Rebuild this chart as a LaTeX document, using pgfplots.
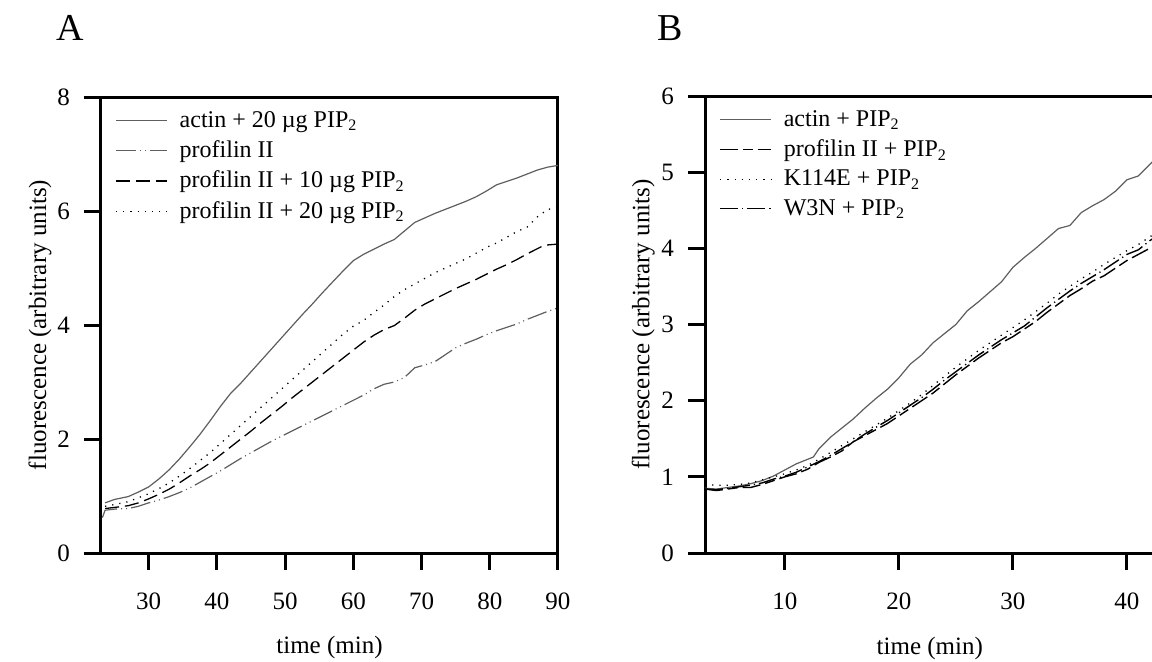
\documentclass[border=0pt]{standalone}
\usepackage{fontspec}
\setmainfont{Liberation Serif}
\usepackage{pgfplots}
\pgfplotsset{compat=1.18}

\definecolor{curvegray}{HTML}{5E5E5E}

\pgfplotsset{
  panel/.style={
    scale only axis,
    axis line style={line width=1.5pt, -},
    tick style={line width=1.5pt, black},
    major tick length=8.5pt,
    tick align=outside,
    tick pos=left,
    /pgf/number format/assume math mode=true,
    ticklabel style={font=\fontsize{12.5}{14}\selectfont},
    xticklabel style={yshift=-8pt},
    yticklabel style={xshift=-3.5pt},
    label style={font=\fontsize{12.5}{14}\selectfont},
    legend style={draw=none, fill=none, at={(0,1)}, anchor=north west,
      xshift=4pt, yshift=-3pt, row sep=1.2pt,
      font=\fontsize{12}{14}\selectfont},
    legend cell align=left,
    legend image code/.code={\draw[##1] (0pt,0pt) -- (25.5pt,0pt); \path (29.5pt,0pt);},
  },
  sold/.style={curvegray, line width=0.6pt},
  dashdotdot/.style={curvegray, line width=0.6pt,
    dash pattern=on 10pt off 2pt on 0.5pt off 2pt on 0.5pt off 2pt},
  dsh/.style={black, line width=0.65pt, dash pattern=on 7pt off 3pt},
  dots/.style={black, line width=0.65pt, dash pattern=on 0.6pt off 3pt},
  longshort/.style={black, line width=0.7pt, dash pattern=on 9pt off 2.5pt on 5pt off 2.5pt},
  dshdot/.style={black, line width=0.7pt, dash pattern=on 9pt off 2pt on 0.6pt off 2pt},
}

\begin{document}
\begin{tikzpicture}
\useasboundingbox (0pt,0pt) rectangle (576pt,-331pt);

\node[font=\fontsize{19}{20}\selectfont] at (35pt,-14pt) {A};
\node[font=\fontsize{19}{20}\selectfont] at (335pt,-14pt) {B};

% panel A
\begin{axis}[panel,
  at={(50.5pt,-276.5pt)}, anchor=south west,
  width=228.5pt, height=228pt,
  xmin=23, xmax=90, ymin=0, ymax=8,
  xtick={30,40,...,90}, ytick={0,2,4,6,8},
  xlabel={time (min)}, ylabel={fluorescence (arbitrary units)},
  xlabel style={at={(axis description cs:0.5,-0.208)}, anchor=center},
  ylabel style={at={(axis description cs:-0.1335,0.5)}, anchor=center},
]
\addplot[sold] coordinates {
 (23.6,0.88) (25,0.94) (27,0.99) (28.5,1.07) (30,1.16) (31.5,1.3) (33,1.46)
 (34.5,1.65) (36,1.86) (37.5,2.08) (39,2.32) (40.5,2.57) (42,2.8) (43.5,2.98)
 (45,3.18) (46.5,3.38) (48,3.58) (49.5,3.78) (51,3.98) (52.5,4.18) (54,4.37)
 (55.5,4.57) (57,4.76) (58.5,4.95) (60,5.13) (61.5,5.24) (63,5.33) (64.5,5.42)
 (66,5.5) (67.5,5.65) (69,5.8) (70.5,5.88) (72,5.96) (73.5,6.03) (75,6.1)
 (76.5,6.17) (78,6.25) (79.5,6.35) (81,6.46) (82.5,6.52) (84,6.58) (85.5,6.65)
 (87,6.72) (88.5,6.77) (90,6.8)};
\addlegendentry{actin + 20 µg PIP\textsubscript{2}}
\addplot[dashdotdot] coordinates {
 (23.2,0.62) (23.6,0.75) (25,0.77) (27,0.78) (28.5,0.82) (30,0.88) (31.5,0.93)
 (33,0.99) (34.5,1.06) (36,1.14) (37.5,1.24) (39,1.34) (40.5,1.44) (42,1.55)
 (43.5,1.66) (45,1.76) (46.5,1.86) (48,1.96) (49.5,2.05) (51,2.14) (52.5,2.23)
 (54,2.32) (55.5,2.41) (57,2.5) (58.5,2.59) (60,2.68) (61.5,2.77) (63,2.88)
 (64.5,2.96) (66,3.0) (67.5,3.08) (69,3.25) (70.5,3.3) (72,3.36) (73.5,3.48)
 (75,3.6) (76.5,3.68) (78,3.75) (79.5,3.83) (81,3.9) (82.5,3.96) (84,4.02)
 (85.5,4.1) (87,4.17) (88.5,4.24) (90,4.3)};
\addlegendentry{profilin II}
\addplot[dsh] coordinates {
 (23.6,0.78) (25,0.8) (27,0.83) (28.5,0.88) (30,0.95) (31.5,1.03) (33,1.12)
 (34.5,1.23) (36,1.35) (37.5,1.46) (39,1.58) (40.5,1.72) (42,1.86) (43.5,2.0)
 (45,2.14) (46.5,2.29) (48,2.43) (49.5,2.57) (51,2.72) (52.5,2.86) (54,3.0)
 (55.5,3.14) (57,3.28) (58.5,3.42) (60,3.56) (61.5,3.7) (63,3.82) (64.5,3.92)
 (66,3.99) (67.5,4.12) (69,4.26) (70.5,4.37) (72,4.46) (73.5,4.55) (75,4.64)
 (76.5,4.72) (78,4.8) (79.5,4.89) (81,4.98) (82.5,5.06) (84,5.15) (85.5,5.25)
 (87,5.34) (88,5.4) (90,5.42)};
\addlegendentry{profilin II + 10 µg PIP\textsubscript{2}}
\addplot[dots] coordinates {
 (23.6,0.82) (25,0.85) (27,0.9) (28.5,0.97) (30,1.04) (31.5,1.13) (33,1.23)
 (34.5,1.35) (36,1.48) (37.5,1.62) (39,1.76) (40.5,1.92) (42,2.08) (43.5,2.24)
 (45,2.4) (46.5,2.56) (48,2.72) (49.5,2.88) (51,3.04) (52.5,3.2) (54,3.36)
 (55.5,3.52) (57,3.68) (58.5,3.84) (60,3.98) (61.5,4.08) (63,4.22) (64.5,4.35)
 (66,4.5) (67.5,4.62) (69,4.72) (70.5,4.82) (72,4.92) (73.5,5.0) (75,5.08)
 (76.5,5.16) (78,5.26) (79.5,5.36) (81,5.44) (82.5,5.54) (84,5.64) (85.5,5.72)
 (87,5.9) (88.5,6.03) (90,6.05)};
\addlegendentry{profilin II + 20 µg PIP\textsubscript{2}}
\end{axis}

% panel B (cut at the right edge)
\begin{axis}[panel,
  at={(352.5pt,-276.5pt)}, anchor=south west,
  width=223.5pt, height=228.5pt,
  axis x line*=box, axis y line*=left,
  xmin=3, xmax=42.2, ymin=0, ymax=6,
  xtick={10,20,30,40}, ytick={0,1,...,6},
  xlabel={time (min)}, ylabel={fluorescence (arbitrary units)},
  xlabel style={at={(axis description cs:0.503,-0.208)}, anchor=center,
    font=\fontsize{12.5}{14}\selectfont},
  ylabel style={at={(axis description cs:-0.138,0.5)}, anchor=center},
]
\addplot[sold] coordinates {
 (3,0.85) (4,0.84) (5,0.86) (6,0.88) (7,0.91) (8,0.95) (9,1.01) (10,1.09)
 (11,1.17) (12,1.23) (12.5,1.26) (13,1.37) (14,1.52) (15,1.64) (16,1.76)
 (17,1.9) (18,2.03) (19,2.15) (20,2.3) (21,2.48) (22,2.6) (23,2.76) (24,2.88)
 (25,3.0) (26,3.18) (27,3.3) (28,3.43) (29,3.56) (30,3.75) (31,3.88) (32,4.0)
 (33,4.13) (34,4.26) (35,4.3) (36,4.47) (37,4.56) (38,4.64) (39,4.75) (40,4.9)
 (41,4.95) (42,5.1) (43,5.25)};
\addlegendentry{actin + PIP\textsubscript{2}}
\addplot[longshort] coordinates {
 (3,0.84) (4,0.82) (5,0.84) (6,0.86) (7,0.86) (8,0.9) (9,0.95) (10,1.0)
 (11,1.04) (12,1.1) (13,1.19) (14,1.26) (15,1.34) (16,1.46) (17,1.54) (18,1.62)
 (19,1.7) (20,1.8) (21,1.9) (22,2.0) (23,2.1) (24,2.22) (25,2.34) (26,2.45)
 (27,2.56) (28,2.66) (29,2.76) (30,2.84) (31,2.94) (32,3.04) (33,3.16) (34,3.27)
 (35,3.38) (36,3.47) (37,3.57) (38,3.64) (39,3.74) (40,3.84) (41,3.92) (42,4.0)
 (43,4.1)};
\addlegendentry{profilin II + PIP\textsubscript{2}}
\addplot[dots] coordinates {
 (3,0.9) (4,0.89) (5,0.89) (6,0.9) (7,0.92) (8,0.96) (9,1.0) (10,1.04)
 (11,1.09) (12,1.15) (13,1.23) (14,1.32) (15,1.41) (16,1.5) (17,1.59) (18,1.68)
 (19,1.77) (20,1.87) (21,1.97) (22,2.08) (23,2.2) (24,2.32) (25,2.44) (26,2.55)
 (27,2.66) (28,2.76) (29,2.86) (30,2.96) (31,3.06) (32,3.17) (33,3.28) (34,3.4)
 (35,3.5) (36,3.6) (37,3.69) (38,3.79) (39,3.88) (40,3.97) (41,4.05) (42,4.15)
 (43,4.25)};
\addlegendentry{K114E + PIP\textsubscript{2}}
\addplot[dshdot] coordinates {
 (3,0.84) (4,0.83) (5,0.85) (6,0.87) (7,0.89) (8,0.92) (9,0.97) (10,1.01)
 (11,1.06) (12,1.13) (13,1.2) (14,1.28) (15,1.37) (16,1.46) (17,1.56) (18,1.65)
 (19,1.74) (20,1.84) (21,1.94) (22,2.04) (23,2.15) (24,2.27) (25,2.38) (26,2.49)
 (27,2.6) (28,2.7) (29,2.8) (30,2.89) (31,2.98) (32,3.1) (33,3.22) (34,3.33)
 (35,3.44) (36,3.54) (37,3.63) (38,3.72) (39,3.82) (40,3.92) (41,3.98) (42,4.1)
 (43,4.2)};
\addlegendentry{W3N + PIP\textsubscript{2}}
\end{axis}
\end{tikzpicture}
\end{document}
